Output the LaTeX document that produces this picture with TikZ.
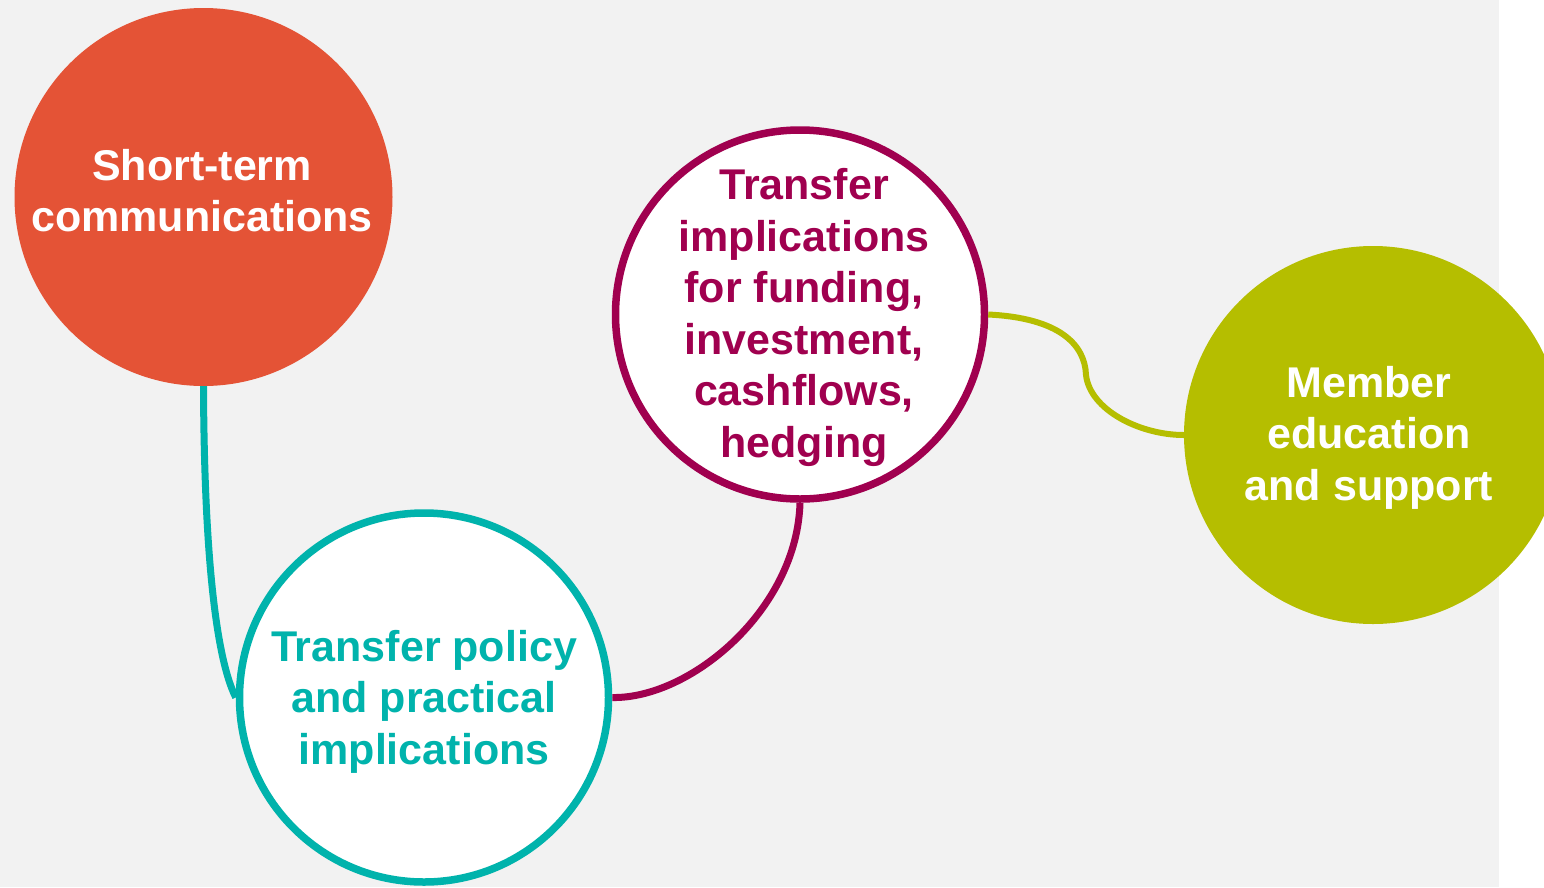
\documentclass[tikz,border=0pt]{standalone}
\usepackage{fontspec}
\setmainfont{Liberation Sans}
\definecolor{bgGray}{HTML}{F2F2F2}
\definecolor{cOrange}{HTML}{E45336}
\definecolor{cMaroon}{HTML}{A0004F}
\definecolor{cTeal}{HTML}{00B3AC}
\definecolor{cOlive}{HTML}{B5BE00}
\begin{document}
\begin{tikzpicture}[x=1pt,y=-1pt,
  filledball/.style={circle, fill=#1, draw=none, minimum size=378pt, inner sep=0pt},
  ringball/.style={circle, fill=white, draw=#1, line width=7.5pt, minimum size=369pt, inner sep=0pt},
  caption/.style={text=#1, font=\bfseries\fontsize{43}{51.5}\selectfont, align=center, inner sep=0pt},
  link/.style={draw=#1, line width=7pt}
]
\useasboundingbox (0,0) rectangle (1544,887);
\fill[bgGray] (0,0) rectangle (1499,887);

% circles
\node[filledball=cOrange] (st) at (203.5,197) {};
\node[ringball=cMaroon] (ti) at (800,314.5) {};
\node[ringball=cTeal] (tp) at (424,697.5) {};
\node[filledball=cOlive] (me) at (1373,435) {};

% connectors
\draw[link=cTeal] (st.south) .. controls (204,520) and (212,650) .. (tp.west);
\draw[link=cMaroon] (ti.south) .. controls (797,610) and (690,699) .. (tp.east);
\draw[link=cOlive, line width=6pt] (ti.east) .. controls (1060,318) and (1085,345) .. (1086,375)
  .. controls (1090,410) and (1140,435) .. (me.west);

% captions
\node[caption=white] (stt) at (202,190.5) {Short-term\\communications};
\node[caption=cMaroon] (tit) at (804,317.5) {Transfer\\implications\\for funding,\\investment,\\cashflows,\\hedging};
\node[caption=cTeal] (tpt) at (424,701.5) {Transfer policy\\and practical\\implications};
\node[caption=white] (met) at (1369,437.5) {Member\\education\\and support};
\end{tikzpicture}
\end{document}
